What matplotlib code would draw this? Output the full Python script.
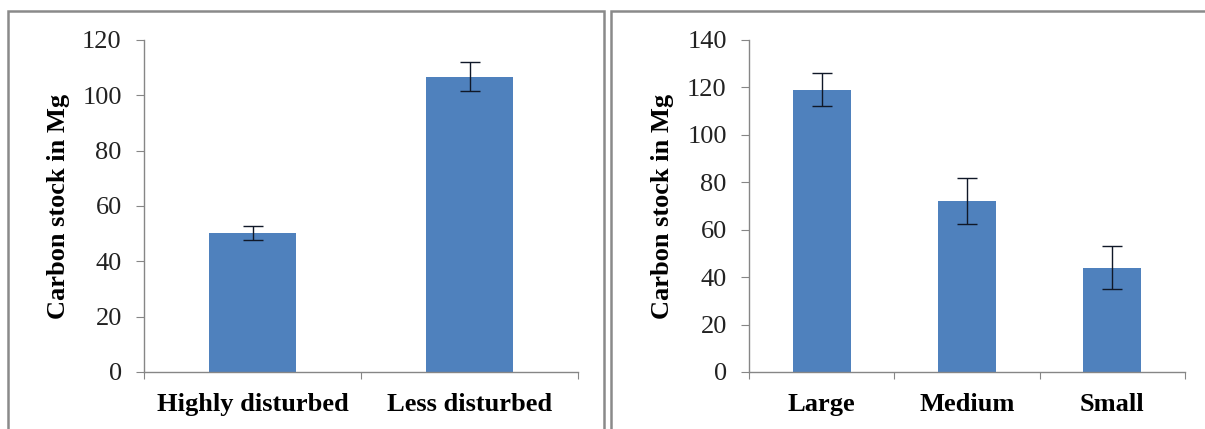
import matplotlib.pyplot as plt
from matplotlib.patches import Rectangle

# left panel: disturbance
dist_cats = ["Highly disturbed", "Less disturbed"]
dist_vals = [50.2, 106.8]
dist_err = [2.6, 5.3]

# right panel: size class
size_cats = ["Large", "Medium", "Small"]
size_vals = [119.0, 72.0, 44.0]
size_err = [7.0, 9.6, 9.2]

BLUE = "#4F81BD"
AXIS_GRAY = "#868686"

plt.rcParams['font.family'] = ['Liberation Serif', 'DejaVu Serif']

W, H = 1205, 429
fig = plt.figure(figsize=(W / 100, H / 100), dpi=100)
fig.patch.set_facecolor("white")

# chart-area frames (Excel style), bottoms run off the image
for x0, x1 in [(8, 604), (611, 1215)]:
    fig.patches.append(Rectangle((x0 / W, -0.1), (x1 - x0) / W, (H - 11) / H + 0.1,
                                 transform=fig.transFigure, fill=False,
                                 edgecolor="#8a8a8a", linewidth=1.8))


def draw_panel(rect, cats, vals, errs, ymax, label_x):
    ax = fig.add_axes(rect)
    n = len(cats)
    pos = [i + 0.5 for i in range(n)]
    ax.bar(pos, vals, width=0.4, color=BLUE, zorder=2)
    ax.errorbar(pos, vals, yerr=errs, fmt="none", ecolor="#101828",
                elinewidth=1.0, capsize=7, capthick=1.0, zorder=3)
    ax.set_xlim(0, n)
    ax.set_ylim(0, ymax)
    ax.set_yticks(range(0, ymax + 1, 20))
    ax.set_xticks(range(n + 1))
    ax.set_xticklabels([])
    ax.set_xticks(pos, minor=True)
    ax.set_xticklabels(cats, minor=True, fontsize=19, fontweight="bold", color="black")
    ax.tick_params(axis="x", which="minor", length=0, pad=15)
    ax.tick_params(axis="x", which="major", length=5, color=AXIS_GRAY, direction="out")
    ax.tick_params(axis="y", length=6, color=AXIS_GRAY, direction="out", pad=10,
                   labelsize=19, labelcolor="#222222")
    for s in ["top", "right"]:
        ax.spines[s].set_visible(False)
    for s in ["left", "bottom"]:
        ax.spines[s].set_color(AXIS_GRAY)
        ax.spines[s].set_linewidth(1.0)
    ax.text(label_x, 0.5, "Carbon stock in Mg", transform=ax.transAxes, rotation=90,
            ha="center", va="center", fontsize=19, fontweight="bold")
    return ax


bottom = (H - 372) / H
height = 332 / H
draw_panel([144 / W, bottom, 434 / W, height], dist_cats, dist_vals, dist_err, 120,
           (59 - 144) / 434)
draw_panel([749 / W, bottom, 436 / W, height], size_cats, size_vals, size_err, 140,
           (662 - 749) / 436)

fig.savefig("out.png", dpi=100)
